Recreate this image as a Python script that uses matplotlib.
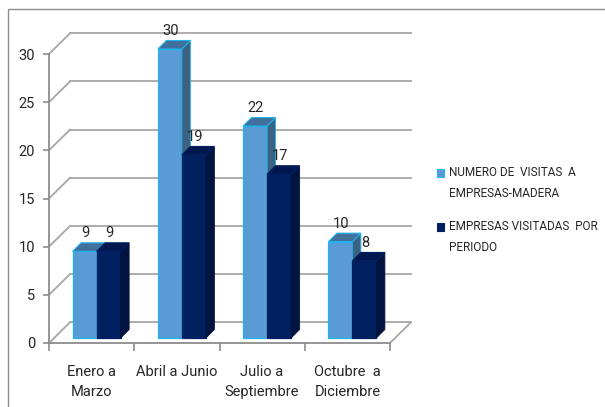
import matplotlib.pyplot as plt
from matplotlib.patches import Polygon, Rectangle

plt.rcParams['font.family'] = ['Roboto', 'DejaVu Sans']

# data
categories = ["Enero a\nMarzo", "Abril a Junio", "Julio a\nSeptiembre", "Octubre  a\nDiciembre"]
visitas = [9, 30, 22, 10]
empresas = [9, 19, 17, 8]
series_names = ["NUMERO DE  VISITAS  A\nEMPRESAS-MADERA", "EMPRESAS VISITADAS  POR\nPERIODO"]
yticks = [0, 5, 10, 15, 20, 25, 30]

# colours (front, side, top, edge)
light = ("#5b9bd5", "#3b6283", "#41709c", "#1eb4ee")
dark = ("#002060", "#00143f", "#00184f", "#002060")

W, H = 605, 407
fig = plt.figure(figsize=(W / 100, H / 100), dpi=100)

# front plane of the chart in pixels
x_left, x_right, y_zero, y_top = 49, 390, 343, 54
ax = fig.add_axes([x_left / W, (H - y_zero) / H, (x_right - x_left) / W, (y_zero - y_top) / H])
ax.set_xlim(-0.5, 3.5)
ax.set_ylim(0, 30)

ppx = (x_right - x_left) / 4.0
ppy = (y_zero - y_top) / 30.0
DX, DY = 21 / ppx, 20.7 / ppy     # wall depth
SX, SY = 5 / ppx, 5 / ppy         # bar shift into depth
BX, BY = 8.5 / ppx, 8.5 / ppy     # bar depth
BW = 24 / ppx                     # bar width

grid_c = "#a6a6a6"
txt_c = "#262626"
# back wall + left wall lines
for t in yticks:
    ax.plot([-0.5 + DX, 3.5 + DX], [t + DY, t + DY], color=grid_c, lw=1.3, clip_on=False, zorder=1)
    ax.plot([-0.5, -0.5 + DX], [t, t + DY], color=grid_c, lw=1.3, clip_on=False, zorder=1)
ax.plot([3.5, 3.5 + DX], [0, DY], color=grid_c, lw=1.3, clip_on=False, zorder=1)


def bar3d(x0, v, cols, z):
    f, s, tp, e = cols
    xa = x0 + SX
    xb = xa + BW
    ax.bar(xa, v, width=BW, bottom=SY, align='edge', color=f, edgecolor=e, lw=0.9, zorder=z, clip_on=False)
    ax.add_patch(Polygon([(xb, SY), (xb + BX, SY + BY), (xb + BX, v + SY + BY), (xb, v + SY)],
                         closed=True, facecolor=s, edgecolor=s if e == f else e, lw=0.6, zorder=z, clip_on=False))
    ax.add_patch(Polygon([(xa, v + SY), (xb, v + SY), (xb + BX, v + SY + BY), (xa + BX, v + SY + BY)],
                         closed=True, facecolor=tp, edgecolor=e, lw=0.8, zorder=z, clip_on=False))
    ax.text(xa + BW / 2 + 0.01, v + SY + 1.85, str(v), ha='center', va='center', fontsize=10.5,
            color=txt_c, zorder=10, clip_on=False)


for i in range(len(categories)):
    bar3d(i - BW, visitas[i], light, 3 + 2 * i)
    bar3d(i, empresas[i], dark, 4 + 2 * i)

# axes styling
for sp in ['top', 'right']:
    ax.spines[sp].set_visible(False)
for sp in ['left', 'bottom']:
    ax.spines[sp].set_color("#8c8c8c")
    ax.spines[sp].set_linewidth(1.3)
ax.set_yticks(yticks)
ax.set_yticklabels([str(t) for t in yticks], fontsize=10.5, color=txt_c)
ax.tick_params(axis='y', length=4, width=1.2, color="#8c8c8c", pad=6)
ax.set_xticks([-0.5, 0.5, 1.5, 2.5, 3.5])
ax.set_xticklabels([])
ax.tick_params(axis='x', length=6, width=1.2, color="#8c8c8c")
for i, c in enumerate(categories):
    ax.text(i, -2.3, c, ha='center', va='top', fontsize=10.5, color=txt_c, linespacing=1.5, clip_on=False)

# legend
for k, (nm, cols) in enumerate(zip(series_names, [light, dark])):
    yy = 173 + k * 54
    fig.add_artist(Rectangle((437 / W, (H - yy - 4) / H), 7 / W, 8 / H, transform=fig.transFigure,
                             facecolor=cols[0], edgecolor=cols[3], lw=0.8))
    fig.text(449 / W, (H - yy + 7) / H, nm, ha='left', va='top', fontsize=8.5, color=txt_c, linespacing=1.8)

# chart border
fig.add_artist(Rectangle((8 / W, -0.01), 1.0, (H - 9) / H + 0.01, transform=fig.transFigure,
                         fill=False, edgecolor="#8c8c8c", lw=1.0))

fig.savefig("out.png", dpi=100)
